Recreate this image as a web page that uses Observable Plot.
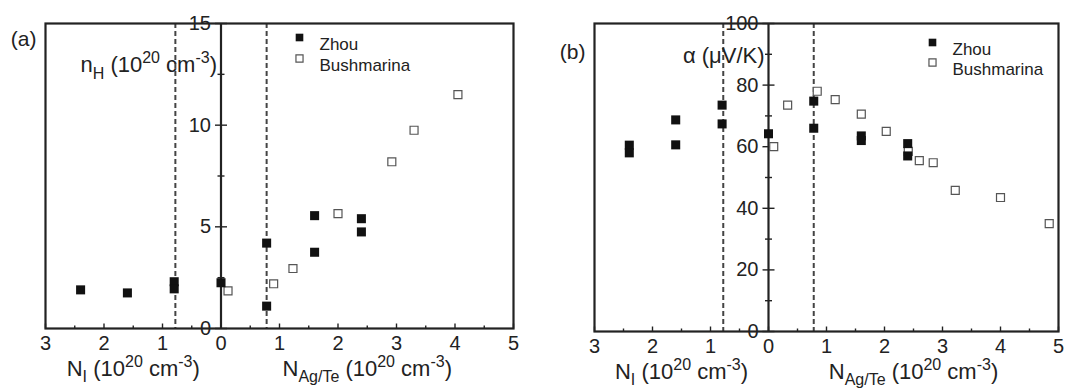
<!DOCTYPE html>
<html><head><meta charset="utf-8">
<script src="https://cdn.jsdelivr.net/npm/d3@7"></script>
<script src="https://cdn.jsdelivr.net/npm/@observablehq/plot@0.6"></script>
<style>
body{margin:0;background:#fff;}
#wrap{position:relative;width:1067px;height:389px;}
.panel{position:absolute;top:0;}
svg text{white-space:pre;}
</style></head><body><div id="wrap"></div>
<script>
// ---------- data ----------
const seriesNames = ["Zhou", "Bushmarina"];
// panel (a): Hall carrier concentration n_H (10^20 cm^-3); negative x = N_I side (plotted mirrored)
const zhouA_x = [-2.4, -1.6, -0.8, -0.8, 0, 0.78, 0.78, 1.6, 1.6, 2.4, 2.4];
const zhouA_y = [1.9, 1.75, 2.3, 1.95, 2.25, 4.2, 1.1, 5.55, 3.75, 5.4, 4.75];
const bushA_x = [0.12, 0.9, 1.23, 2.0, 2.92, 3.3, 4.05];
const bushA_y = [1.85, 2.2, 2.95, 5.65, 8.2, 9.75, 11.5];
// panel (b): Seebeck coefficient alpha (uV/K)
const zhouB_x = [-2.4, -2.4, -1.6, -1.6, -0.8, -0.8, 0, 0.78, 0.78, 1.6, 1.6, 2.4, 2.4];
const zhouB_y = [60.5, 58, 68.7, 60.6, 73.5, 67.4, 64.2, 74.8, 66, 63.5, 62, 61, 57];
const bushB_x = [0.09, 0.33, 0.84, 1.15, 1.6, 2.03, 2.41, 2.6, 2.84, 3.22, 4.0, 4.84];
const bushB_y = [60, 73.5, 78, 75.3, 70.6, 65, 58.5, 55.5, 54.8, 45.8, 43.5, 35];
// ticks and guides
const xTicks = [-3, -2, -1, 0, 1, 2, 3, 4, 5];
const xMinor = [-2.5, -1.5, -0.5, 0.5, 1.5, 2.5, 3.5, 4.5];
const yTicksA = [0, 5, 10, 15];
const yMinorA = [2.5, 7.5, 12.5];
const yTicksB = [0, 20, 40, 60, 80, 100];
const yMinorB = [10, 30, 50, 70, 90];
const dashedX = [-0.78, 0.78];
const xLabelLeft = "N_I (10^20 cm^-3)";
const xLabelRight = "N_Ag/Te (10^20 cm^-3)";
const yLabelA = "n_H (10^20 cm^-3)";
const yLabelB = "\u03b1 (\u03bcV/K)";

// rich text segments: 0 normal, 1 subscript, -1 superscript
const RICH = {
  [xLabelLeft]: [["N",0],["I",1],[" (10",0],["20",-1],[" cm",0],["-3",-1],[")",0]],
  [xLabelRight]: [["N",0],["Ag/Te",1],[" (10",0],["20",-1],[" cm",0],["-3",-1],[")",0]],
  [yLabelA]: [["n",0],["H",1],[" (10",0],["20",-1],[" cm",0],["-3",-1],[")",0]]
};

const FONT = "'Liberation Sans', Arial, Helvetica, sans-serif";
const INK = "#222";

const hTick = {draw(ctx, size) { const r = Math.sqrt(size / Math.PI); ctx.moveTo(-r, 0); ctx.lineTo(r, 0); }};
const upTick = {draw(ctx, size) { const r = Math.sqrt(size / Math.PI); ctx.moveTo(0, 0); ctx.lineTo(0, -r); }};

function table(xs, ys) { return xs.map((x, i) => ({x, y: ys[i]})); }

function richify(svg, base, small) {
  d3.select(svg).selectAll("text").each(function() {
    const segs = RICH[this.textContent];
    if (!segs) return;
    const sel = d3.select(this);
    sel.text(null);
    let cur = 0;
    for (const [t, s] of segs) {
      const target = s === 1 ? 0.3 * base : s === -1 ? -0.4 * base : 0;
      sel.append("tspan").attr("dy", target - cur).attr("font-size", s ? small : base).text(t);
      cur = target;
    }
  });
}

function panel(cfg) {
  const zhou = table(cfg.zx, cfg.zy);
  const bush = table(cfg.bx, cfg.by);
  const y0 = cfg.yDomain[0];
  const svg = Plot.plot({
    width: cfg.width, height: 389,
    marginTop: 23, marginBottom: cfg.mb, marginLeft: cfg.ml, marginRight: cfg.mr,
    style: {fontFamily: FONT, background: "transparent", overflow: "visible", color: INK},
    x: {domain: [-3, 5], axis: null},
    y: {domain: cfg.yDomain, axis: null},
    marks: [
      Plot.ruleX(dashedX, {stroke: "#444", strokeWidth: 2, strokeDasharray: "5,3"}),
      Plot.frame({stroke: INK, strokeWidth: 2.2}),
      Plot.ruleX([0], {stroke: INK, strokeWidth: 2.2}),
      Plot.dot(cfg.yTicks, {x: 0, y: d => d, symbol: hTick, r: 6, stroke: INK, strokeWidth: 1.4}),
      Plot.dot(cfg.yMinor, {x: 0, y: d => d, symbol: hTick, r: 3.5, stroke: INK, strokeWidth: 1.4}),
      Plot.text(cfg.yTicks, {x: 0, y: d => d, text: d => String(d), textAnchor: "end", dx: -10, fontSize: 20, fill: INK}),
      Plot.dot(xTicks, {x: d => d, y: y0, symbol: upTick, r: 5, stroke: INK, strokeWidth: 1.4}),
      Plot.dot(xMinor, {x: d => d, y: y0, symbol: upTick, r: 3, stroke: INK, strokeWidth: 1.4}),
      Plot.axisX(xTicks, {tickSize: 0, tickPadding: 7, tickFormat: d => String(Math.abs(d)), fontSize: 20, fill: INK, label: null}),
      Plot.dot(bush, {x: "x", y: "y", symbol: "square", r: 4.5, fill: "white", stroke: "#555", strokeWidth: 1.2}),
      Plot.dot(zhou, {x: "x", y: "y", symbol: "square", r: 5.1, fill: "#111"}),
      // legend
      Plot.dot([seriesNames[0]], {frameAnchor: "top-left", dx: cfg.legDx, dy: cfg.legDy, symbol: "square", r: 4.3, fill: "#111"}),
      Plot.dot([seriesNames[1]], {frameAnchor: "top-left", dx: cfg.legDx, dy: cfg.legDy + cfg.legGap, symbol: "square", r: 4, fill: "white", stroke: "#555", strokeWidth: 1.2}),
      Plot.text([seriesNames[0]], {frameAnchor: "top-left", dx: cfg.legDx + 20, dy: cfg.legDy, text: d => d, textAnchor: "start", fontSize: 17, fill: INK}),
      Plot.text([seriesNames[1]], {frameAnchor: "top-left", dx: cfg.legDx + 20, dy: cfg.legDy + cfg.legGap, text: d => d, textAnchor: "start", fontSize: 17, fill: INK}),
      // axis titles
      Plot.text([cfg.yLabel], {x: 0, frameAnchor: "top", dx: -4, dy: cfg.yLabDy, text: d => d, textAnchor: "end", fontSize: 22, fill: INK}),
      Plot.text([xLabelLeft], {x: -1.5, frameAnchor: "bottom", dy: 47, text: d => d, fontSize: 22, fill: INK}),
      Plot.text([xLabelRight], {x: 2.5, frameAnchor: "bottom", dy: 47, text: d => d, fontSize: 22, fill: INK}),
      // panel tag
      Plot.text([cfg.tag], {frameAnchor: "top-left", dx: -9, dy: cfg.tagDy, text: d => d, textAnchor: "end", fontSize: 21, fill: INK})
    ]
  });
  richify(svg, 22, 16);
  return svg;
}

const wrap = document.getElementById("wrap");
const a = panel({
  width: 533, ml: 45, mr: 20, mb: 61, yDomain: [0, 15],
  zx: zhouA_x, zy: zhouA_y, bx: bushA_x, by: bushA_y,
  yTicks: yTicksA, yMinor: yMinorA, yLabel: yLabelA, yLabDy: 33,
  legDx: 254, legDy: 14, legGap: 21, tag: "(a)", tagDy: 8
});
a.classList.add("panel"); a.style.left = "0px";
wrap.appendChild(a);
const b = panel({
  width: 534, ml: 61, mr: 9, mb: 58, yDomain: [0, 100],
  zx: zhouB_x, zy: zhouB_y, bx: bushB_x, by: bushB_y,
  yTicks: yTicksB, yMinor: yMinorB, yLabel: yLabelB, yLabDy: 24,
  legDx: 338, legDy: 19, legGap: 20, tag: "(b)", tagDy: 21
});
b.classList.add("panel"); b.style.left = "533px";
wrap.appendChild(b);
</script></body></html>
